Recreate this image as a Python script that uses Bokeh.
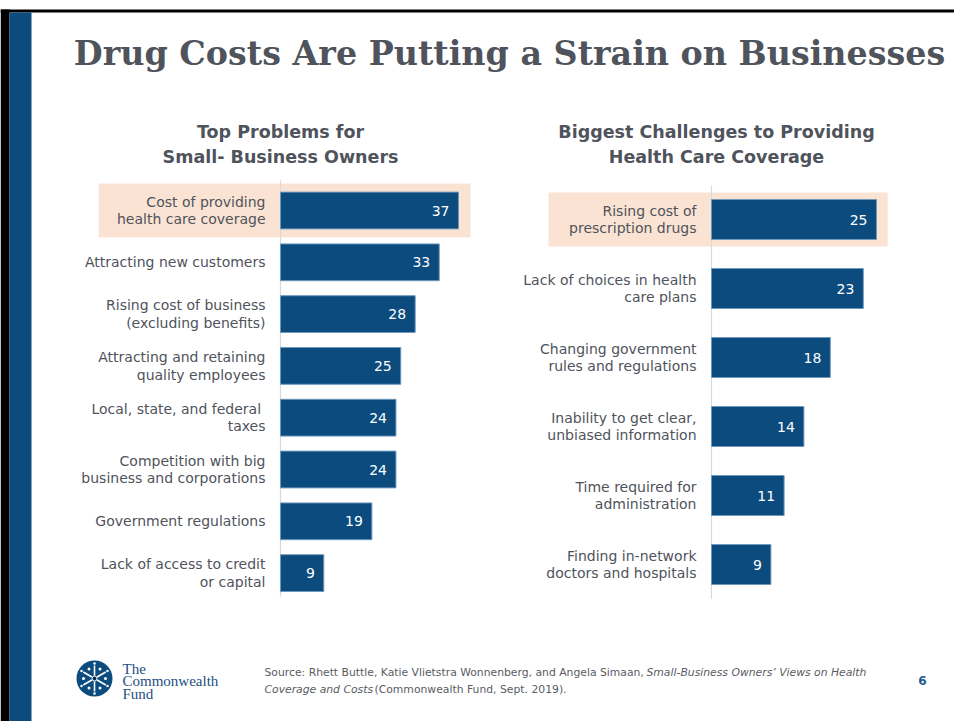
import numpy as np
from bokeh.plotting import figure
from bokeh.models import Range1d
from bokeh.core.properties import value
from bokeh.embed import file_html
from bokeh.resources import INLINE

# ---------------- data ----------------
left_title = ["Top Problems for", "Small- Business Owners"]
left_categories = [
    "Cost of providing\nhealth care coverage",
    "Attracting new customers",
    "Rising cost of business\n(excluding benefits)",
    "Attracting and retaining\nquality employees",
    "Local, state, and  federal\ntaxes",
    "Competition with big\nbusiness and corporations",
    "Government regulations",
    "Lack of access to credit\nor capital",
]
left_values = [37, 33, 28, 25, 24, 24, 19, 9]
left_highlight = [0]

right_title = ["Biggest Challenges to Providing", "Health Care Coverage"]
right_categories = [
    "Rising cost of\nprescription drugs",
    "Lack of choices in health\ncare plans",
    "Changing government\nrules and regulations",
    "Inability to get clear,\nunbiased information",
    "Time required for\nadministration",
    "Finding in-network\ndoctors and hospitals",
]
right_values = [25, 23, 18, 14, 11, 9]
right_highlight = [0]

main_title = "Drug Costs Are Putting a Strain on Businesses"
source_normal_1 = "Source: Rhett Buttle, Katie Vlietstra Wonnenberg, and Angela Simaan, "
source_italic_1 = "Small-Business Owners\u2019 Views on Health"
source_italic_2 = "Coverage and Costs"
source_normal_2 = " (Commonwealth Fund, Sept. 2019)."
page_number = "6"

# ---------------- style ----------------
W, H = 954, 721
BAR = "#0b4b7e"
BAR_EDGE = "#6f98bd"
HIL = "#fbe3d3"
TXT = "#4f535c"
AXIS = "#d9d9d9"
BLUE = "#0b4b7e"
FONT = "DejaVu Sans"

p = figure(width=W, height=H, x_range=Range1d(0, W), y_range=Range1d(H, 0),
           x_axis_type=None, y_axis_type=None, toolbar_location=None,
           output_backend="svg", min_border=0, outline_line_color=None,
           background_fill_color="white", border_fill_color="white")
p.grid.visible = False


def xr(px0, ppu):
    return Range1d(-px0 / ppu, (W - px0) / ppu)


def yr(py0, step):
    return Range1d((H - py0) / step, -py0 / step)


# left chart: zero at x=280, 4.81 px per unit; first bar centre y=210, step 51.8
p.extra_x_ranges = {"L": xr(280, 4.81), "R": xr(711, 6.6)}
p.extra_y_ranges = {"L": yr(210, 51.8), "R": yr(219, 69)}

# ---------- decorations ----------
p.quad(left=0, right=W, top=9, bottom=12, fill_color="black", line_color=None)
p.quad(left=0, right=9, top=9, bottom=H, fill_color="black", line_color=None)
p.quad(left=9, right=31, top=12, bottom=H, fill_color=BLUE, line_color=None)

p.text(x=[509], y=[53], text=[main_title], text_align="center",
       text_baseline="middle", text_font=value("DejaVu Serif"),
       text_font_style="bold", text_font_size="33.3px", text_color=TXT)


def panel(name, cats, vals, hil, titles, tcx, bar_h, hl_left, hl_right, hl_h,
          ax_top, ax_bot):
    idx = list(range(len(cats)))
    # highlight band
    p.hbar(y=hil, left=hl_left, right=hl_right, height=hl_h, fill_color=HIL,
           line_color=None, x_range_name=name, y_range_name=name)
    # axis line
    p.segment(x0=[0], x1=[0], y0=[ax_top], y1=[ax_bot], line_color=AXIS,
              line_width=1.2, x_range_name=name, y_range_name=name)
    # bars
    p.hbar(y=idx, left=0, right=vals, height=bar_h, fill_color=BAR,
           line_color=BAR_EDGE, line_width=1, x_range_name=name,
           y_range_name=name)
    # value labels
    p.text(x=vals, y=idx, text=[str(v) for v in vals], x_offset=-9,
           text_align="right", text_baseline="middle", text_color="white",
           text_font=value(FONT), text_font_size="14px",
           x_range_name=name, y_range_name=name)
    # category labels
    p.text(x=[0] * len(cats), y=idx, text=cats, x_offset=-15,
           text_align="right", text_baseline="middle", text_color=TXT,
           text_font=value(FONT), text_font_size="14px", text_line_height=1.08,
           x_range_name=name, y_range_name=name)
    # panel title
    p.text(x=[tcx, tcx], y=[131, 156], text=titles, text_align="center",
           text_baseline="middle", text_color=TXT, text_font=value(FONT),
           text_font_style="bold", text_font_size="17.5px")


panel("L", left_categories, left_values, left_highlight, left_title, 280,
      0.71, -37.8, 39.5, 1.04, -0.58, 7.45)
panel("R", right_categories, right_values, right_highlight, right_title, 716,
      0.58, -24.7, 26.7, 0.78, -0.49, 5.5)

# ---------- footer ----------
p.circle(x=[94], y=[678], radius=18, fill_color=BLUE, line_color=None)
ang = np.deg2rad(np.arange(0, 360, 60) + 90)
cx, cy = 94, 678
p.segment(x0=cx + 3 * np.cos(ang), y0=cy + 3 * np.sin(ang),
          x1=cx + 13 * np.cos(ang), y1=cy + 13 * np.sin(ang),
          line_color="white", line_width=1.6)
ang2 = ang + np.deg2rad(30)
p.scatter(x=cx + 11 * np.cos(ang2), y=cy + 11 * np.sin(ang2), size=3,
          fill_color="white", line_color=None)
p.scatter(x=cx + 15 * np.cos(ang), y=cy + 15 * np.sin(ang), size=2.5,
          fill_color="white", line_color=None)
p.scatter(x=[cx], y=[cy], size=5, fill_color="#0b2f55", line_color="white",
          line_width=1)

p.text(x=[122, 122, 122], y=[668, 680.5, 693], text=["The", "Commonwealth", "Fund"],
       text_align="left", text_baseline="middle", text_color="#1d4f7f",
       text_font=value("Liberation Serif"), text_font_size="15px")

SRC = "#595c63"
SRC_SIZE = "10.8px"
p.text(x=[264], y=[672], text=[source_normal_1], text_align="left",
       text_baseline="middle", text_color=SRC, text_font=value(FONT),
       text_font_size=SRC_SIZE)
p.text(x=[646], y=[672], text=[source_italic_1], text_align="left",
       text_baseline="middle", text_color=SRC, text_font=value(FONT),
       text_font_style="italic", text_font_size=SRC_SIZE)
p.text(x=[264], y=[689], text=[source_italic_2], text_align="left",
       text_baseline="middle", text_color=SRC, text_font=value(FONT),
       text_font_style="italic", text_font_size=SRC_SIZE)
p.text(x=[374], y=[689], text=[source_normal_2], text_align="left",
       text_baseline="middle", text_color=SRC, text_font=value(FONT),
       text_font_size=SRC_SIZE)

p.text(x=[922], y=[680], text=[page_number], text_align="center",
       text_baseline="middle", text_color="#1f5b8f", text_font=value(FONT),
       text_font_style="bold", text_font_size="12px")

open("out.html", "w").write(file_html(p, INLINE))
